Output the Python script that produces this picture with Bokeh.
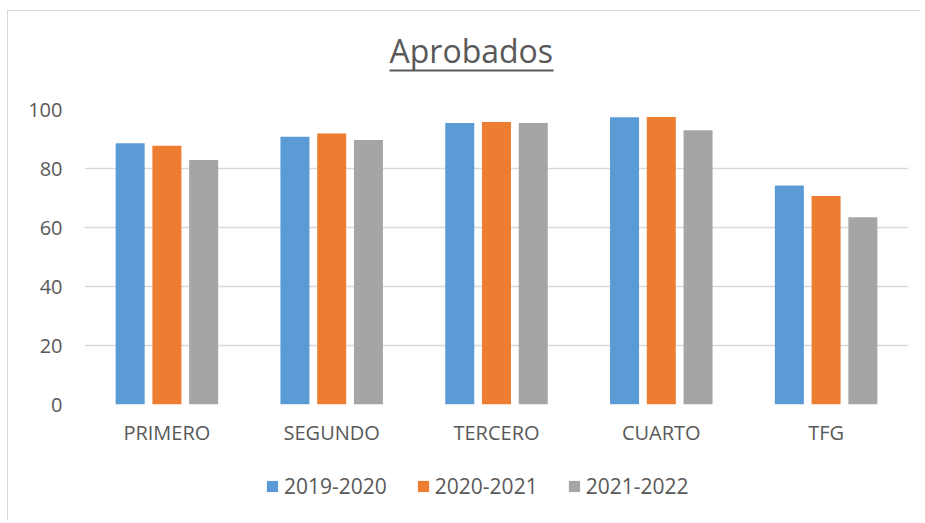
from bokeh.plotting import figure
from bokeh.layouts import column
from bokeh.models import (ColumnDataSource, FactorRange, Range1d, FixedTicker,
                          Legend, LegendItem, BoxAnnotation, Label)
from bokeh.transform import dodge
from bokeh.embed import file_html
from bokeh.resources import INLINE

categories = ["PRIMERO", "SEGUNDO", "TERCERO", "CUARTO", "TFG"]
series_names = ["2019-2020", "2020-2021", "2021-2022"]
v_2019_2020 = [88.6, 90.8, 95.4, 97.4, 74.2]
v_2020_2021 = [87.7, 91.9, 95.8, 97.5, 70.7]
v_2021_2022 = [82.9, 89.7, 95.4, 93.0, 63.5]
y_ticks = [0, 20, 40, 60, 80, 100]
chart_title = "Aprobados"

colors = ["#5B9BD5", "#ED7D31", "#A5A5A5"]
FONT = "Open Sans"
TEXT = "#595959"
W = 912

source = ColumnDataSource(dict(cat=categories, s0=v_2019_2020, s1=v_2020_2021, s2=v_2021_2022))
keys = ["s0", "s1", "s2"]
offsets = [-0.223, 0.0, 0.223]

# ---- title strip ----
t = figure(width=W, height=79, output_backend="svg", toolbar_location=None,
           x_axis_location=None, y_axis_location=None, min_border=0,
           x_range=Range1d(0, 1), y_range=Range1d(0, 1))
t.outline_line_color = None
t.grid.grid_line_color = None
t.add_layout(Label(x=305, y=40, x_units="screen", y_units="screen", text=chart_title,
                   text_font=FONT, text_font_size="32px", text_color=TEXT,
                   text_align="left", text_baseline="alphabetic"))
t.add_layout(BoxAnnotation(left=305, right=469, bottom=19, top=21,
                           left_units="screen", right_units="screen",
                           top_units="screen", bottom_units="screen",
                           fill_color=TEXT, fill_alpha=1.0, line_color=None))

# ---- main chart ----
p = figure(x_range=FactorRange(*categories), y_range=Range1d(0, 100),
           width=W, height=360, output_backend="svg", toolbar_location=None,
           min_border_left=76, min_border_right=12, min_border_top=19, min_border_bottom=46)

for i, key in enumerate(keys):
    p.vbar(x=dodge("cat", offsets[i], range=p.x_range), top=key, width=0.176,
           source=source, fill_color=colors[i], line_color=None)

p.outline_line_color = None
p.xgrid.grid_line_color = None
p.ygrid.grid_line_color = "#D9D9D9"
p.ygrid.grid_line_width = 1.5
p.yaxis.ticker = FixedTicker(ticks=y_ticks)

for ax in (p.xaxis[0], p.yaxis[0]):
    ax.axis_line_color = None
    ax.major_tick_line_color = None
    ax.minor_tick_line_color = None
    ax.major_tick_out = 0
    ax.major_tick_in = 0
    ax.major_label_text_font = FONT
    ax.major_label_text_font_size = "20px"
    ax.major_label_text_color = TEXT
p.yaxis.major_label_standoff = 22
p.xaxis.major_label_standoff = 14

# ---- legend strip (proxy bars lie outside its visible y range) ----
lg = figure(width=W, height=70, output_backend="svg", toolbar_location=None,
            x_axis_location=None, y_axis_location=None, min_border=0,
            x_range=FactorRange(*categories), y_range=Range1d(1000, 1001))
lg.outline_line_color = None
lg.grid.grid_line_color = None
items = []
for i, (name, key) in enumerate(zip(series_names, keys)):
    r = lg.vbar(x=dodge("cat", offsets[i], range=lg.x_range), top=key, width=0.176,
                source=source, fill_color=colors[i], line_color=None)
    items.append(LegendItem(label=name, renderers=[r]))
legend = Legend(items=items, orientation="horizontal", location=(181, 20),
                label_text_font=FONT, label_text_font_size="21px", label_text_color=TEXT,
                glyph_width=14, glyph_height=14, label_standoff=5, spacing=29,
                border_line_color=None, background_fill_alpha=0, margin=0, padding=0)
lg.add_layout(legend, "center")

layout = column(t, p, lg, spacing=0, margin=(10, 0, 0, 7),
                styles={"border-left": "1px solid #D9D9D9", "border-top": "1px solid #D9D9D9"})
open("out.html", "w").write(file_html(layout, INLINE))
